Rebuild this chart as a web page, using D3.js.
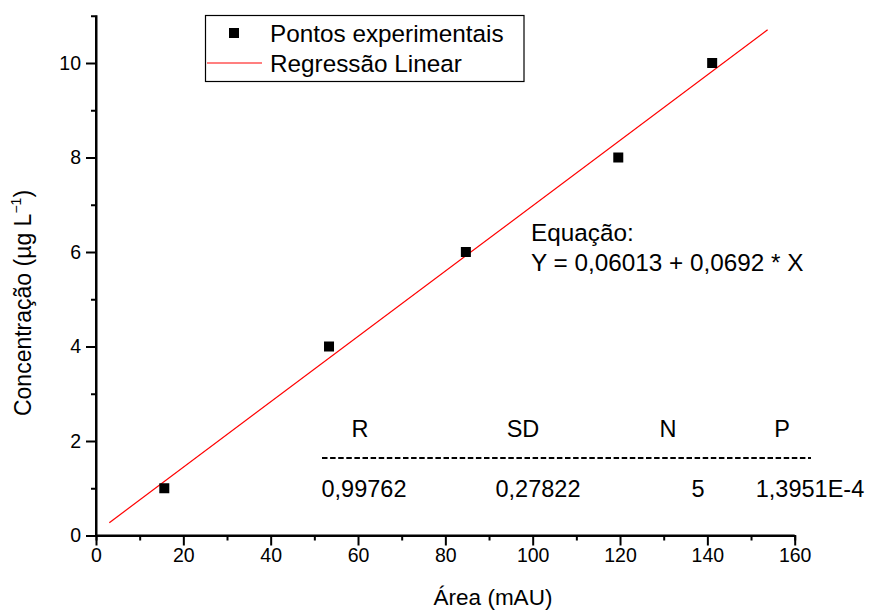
<!DOCTYPE html>
<html><head><meta charset="utf-8">
<script src="https://cdn.jsdelivr.net/npm/d3@7"></script>
<style>body{margin:0;background:#fff}svg{display:block}text{font-family:Arial,"Liberation Sans",sans-serif;fill:#000}</style>
</head><body><svg id="c" width="869" height="611"></svg>
<script>
const areaX = [15.64, 53.36, 84.7, 119.6, 141.1];
const concY = [1, 4, 6, 8, 10];
const intercept = 0.06013, slope = 0.0692;
const fitRange = [3.05, 153.8];
const xTicks = [0,20,40,60,80,100,120,140,160];
const yTicks = [0,2,4,6,8,10];
const statHeaders = ["R","SD","N","P"];
const statValues = ["0,99762","0,27822","5","1,3951E-4"];
const legendLabels = ["Pontos experimentais","Regressão Linear"];

const svg = d3.select("#c");
const x = d3.scaleLinear().domain([0,160]).range([96,794.7]);
const y = d3.scaleLinear().domain([0,11]).range([535.5,15.75]);

// axes
const xAxis = svg.append("g").attr("transform","translate(0,"+y(0)+")")
  .call(d3.axisBottom(x).tickValues(xTicks).tickSize(10).tickPadding(3).tickFormat(d3.format("d")));
svg.append("g").attr("transform","translate(0,"+y(0)+")")
  .call(d3.axisBottom(x).tickValues(d3.range(10,160,20)).tickSize(5).tickFormat(""));
const yAxis = svg.append("g").attr("transform","translate("+x(0)+",0)")
  .call(d3.axisLeft(y).tickValues(yTicks).tickSize(10).tickPadding(5).tickFormat(d3.format("d")));
svg.append("g").attr("transform","translate("+x(0)+",0)")
  .call(d3.axisLeft(y).tickValues(d3.range(1,11,2)).tickSize(5).tickFormat(""));
svg.selectAll(".domain").attr("stroke","#000").attr("stroke-width",2);
svg.selectAll(".tick line").attr("stroke","#000").attr("stroke-width",2);
xAxis.select(".domain").attr("d","M"+x(0)+",0H"+x(160));
yAxis.select(".domain").attr("d","M0,"+y(0)+"V"+y(11));
svg.selectAll(".tick text").attr("font-size",19.5).attr("font-family","Arial, 'Liberation Sans', sans-serif").attr("fill","#000");

// fit line
svg.append("line")
  .attr("x1",x(fitRange[0])).attr("y1",y(intercept+slope*fitRange[0]))
  .attr("x2",x(fitRange[1])).attr("y2",y(intercept+slope*fitRange[1]))
  .attr("stroke","#ff0000").attr("stroke-width",1.2);

// points
const ms = 10;
svg.selectAll("rect.pt").data(areaX.map((v,i)=>[v,concY[i]])).enter().append("rect")
  .attr("x",d=>x(d[0])-ms/2).attr("y",d=>y(d[1])-ms/2)
  .attr("width",ms).attr("height",ms).attr("fill","#000");

// legend
svg.append("rect").attr("x",205.5).attr("y",15.5).attr("width",318.5).attr("height",66)
  .attr("fill","none").attr("stroke","#000").attr("stroke-width",1.2);
svg.append("rect").attr("x",234-ms/2).attr("y",33-ms/2).attr("width",ms).attr("height",ms).attr("fill","#000");
svg.append("line").attr("x1",207).attr("x2",262).attr("y1",63).attr("y2",63).attr("stroke","#ff0000").attr("stroke-width",1.2);
legendLabels.forEach((t,i)=>{
  svg.append("text").attr("x",270).attr("y",42+i*30).attr("font-size",24.3).text(t);
});

// equation
svg.append("text").attr("x",531).attr("y",241).attr("font-size",24.3).text("Equação:");
svg.append("text").attr("x",531).attr("y",271).attr("font-size",24.3).text("Y = 0,06013 + 0,0692 * X");

// stats table
const headerX = [360,523,668,782];
const valueX = [364,538,698,810];
statHeaders.forEach((t,i)=>svg.append("text").attr("x",headerX[i]).attr("y",437).attr("font-size",23.5).attr("text-anchor","middle").text(t));
statValues.forEach((t,i)=>svg.append("text").attr("x",valueX[i]).attr("y",497).attr("font-size",23.5).attr("text-anchor","middle").text(t));
svg.append("line").attr("x1",322).attr("x2",811).attr("y1",458).attr("y2",458)
  .attr("stroke","#000").attr("stroke-width",1.8).attr("stroke-dasharray","5.5,2.6");

// axis titles
svg.append("text").attr("x",493).attr("y",605).attr("font-size",22.5).attr("text-anchor","middle").text("Área (mAU)");
const yl = svg.append("text").attr("transform","translate(31,303) rotate(-90)").attr("font-size",23).attr("text-anchor","middle");
yl.append("tspan").text("Concentração (µg L");
yl.append("tspan").attr("font-size",14).attr("dy",-10).text("−1");
yl.append("tspan").attr("dy",10).text(")");
</script></body></html>
